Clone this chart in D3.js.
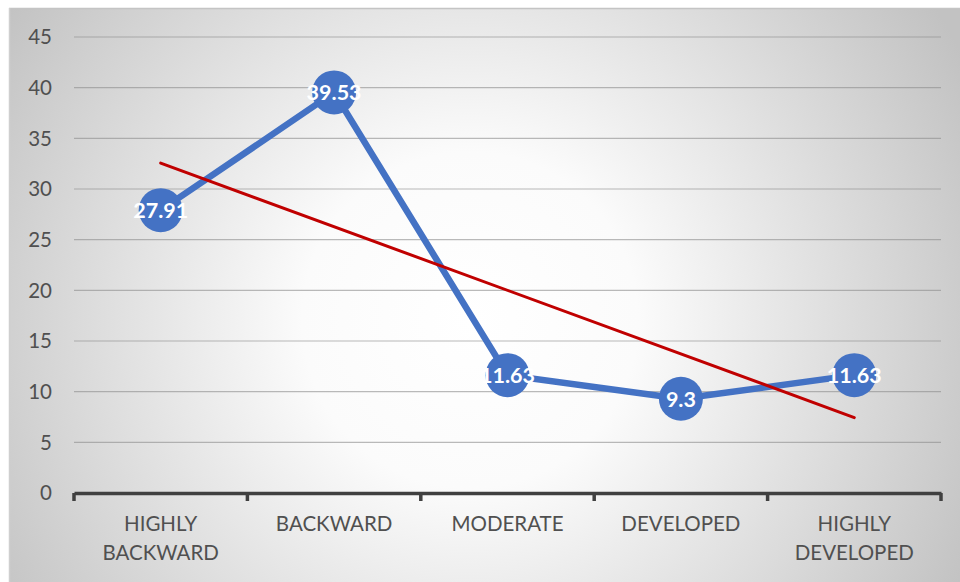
<!DOCTYPE html>
<html>
<head>
<meta charset="utf-8">
<script src="https://cdn.jsdelivr.net/npm/d3@7"></script>
<style>
  body { margin: 0; background: #fff; }
  svg { display: block; }
</style>
</head>
<body>
<div id="chart"></div>
<script>
/* chart data */
const categories = [['HIGHLY', 'BACKWARD'], ['BACKWARD'], ['MODERATE'], ['DEVELOPED'], ['HIGHLY', 'DEVELOPED']]
const values = [27.91, 39.53, 11.63, 9.3, 11.63]
const yTicks = [0, 5, 10, 15, 20, 25, 30, 35, 40, 45]

/* dimensions */
const W = 960
const H = 582
const margin = { top: 37, left: 74, right: 19, bottom: 89 }
const font = 'Lato, "Open Sans", sans-serif'

const svg = d3.select('#chart').append('svg').attr('width', W).attr('height', H)

/* radial gradient background */
const grad = svg.append('defs').append('radialGradient')
  .attr('id', 'bg')
  .attr('gradientUnits', 'userSpaceOnUse')
  .attr('cx', 470).attr('cy', 320).attr('r', 560)
grad.append('stop').attr('offset', '0%').attr('stop-color', '#ffffff')
grad.append('stop').attr('offset', '30%').attr('stop-color', '#fbfbfb')
grad.append('stop').attr('offset', '100%').attr('stop-color', '#c2c2c2')

svg.append('rect').attr('x', 9).attr('y', 8).attr('width', W - 9).attr('height', H - 8)
  .attr('fill', 'url(#bg)')
svg.append('line').attr('x1', 9).attr('x2', W).attr('y1', 8.5).attr('y2', 8.5)
  .attr('stroke', '#c4c4c4').attr('stroke-width', 1.5)
svg.append('line').attr('x1', 9.5).attr('x2', 9.5).attr('y1', 8).attr('y2', H)
  .attr('stroke', '#cfcfcf').attr('stroke-width', 1.5)

/* scales */
const x = d3.scaleBand().domain(d3.range(values.length))
  .range([margin.left, W - margin.right])
const y = d3.scaleLinear().domain([0, 45]).range([H - margin.bottom, margin.top])

/* gridlines */
svg.append('g').selectAll('line').data(yTicks.filter((d) => d > 0)).join('line')
  .attr('x1', margin.left).attr('x2', W - margin.right)
  .attr('y1', (d) => y(d)).attr('y2', (d) => y(d))
  .attr('stroke', '#8c8c8c').attr('stroke-opacity', 0.6).attr('stroke-width', 1.2)

/* y axis labels */
svg.append('g').selectAll('text').data(yTicks).join('text')
  .attr('x', 52).attr('y', (d) => y(d)).attr('dy', '0.35em')
  .attr('text-anchor', 'end')
  .attr('font-family', font).attr('font-size', 20.5).attr('fill', '#505050')
  .text((d) => d)

/* x axis */
const xAxis = d3.axisBottom(x).tickSize(0).tickFormat('')
const gx = svg.append('g').attr('transform', `translate(0,${y(0)})`).call(xAxis)
gx.select('.domain').attr('stroke', '#404040').attr('stroke-width', 3.5)
gx.selectAll('.tick').remove()
const bounds = x.domain().map((i) => x(i)).concat([x(values.length - 1) + x.bandwidth()])
gx.selectAll('.edge').data(bounds).join('line').attr('class', 'edge')
  .attr('x1', (d) => d).attr('x2', (d) => d).attr('y1', 0).attr('y2', 8)
  .attr('stroke', '#404040').attr('stroke-width', 3.5)

/* category labels */
const catG = svg.append('g').selectAll('text').data(categories).join('text')
  .attr('x', (d, i) => x(i) + x.bandwidth() / 2).attr('y', y(0) + 38)
  .attr('text-anchor', 'middle')
  .attr('font-family', font).attr('font-size', 20.5).attr('fill', '#505050')
catG.selectAll('tspan').data((d) => d).join('tspan')
  .attr('x', function () { return d3.select(this.parentNode).attr('x') })
  .attr('dy', (d, i) => (i === 0 ? 0 : 29))
  .text((d) => d)

/* linear trendline (least squares over category index) */
const xs = values.map((d, i) => i + 1)
const mx = d3.mean(xs)
const my = d3.mean(values)
const slope = d3.sum(xs, (d, i) => (d - mx) * (values[i] - my)) / d3.sum(xs, (d) => (d - mx) ** 2)
const intercept = my - slope * mx
const trend = [0, values.length - 1].map((i) => [i, intercept + slope * (i + 1)])

const cx = (i) => x(i) + x.bandwidth() / 2

/* data line */
svg.append('path').datum(values)
  .attr('d', d3.line().x((d, i) => cx(i)).y((d) => y(d)))
  .attr('fill', 'none').attr('stroke', '#4472c4').attr('stroke-width', 6.5)
  .attr('stroke-linejoin', 'round')

/* trendline */
svg.append('path').datum(trend)
  .attr('d', d3.line().x((d) => cx(d[0])).y((d) => y(d[1])))
  .attr('fill', 'none').attr('stroke', '#c00000').attr('stroke-width', 3)
  .attr('stroke-linecap', 'round')

/* markers */
svg.append('g').selectAll('circle').data(values).join('circle')
  .attr('cx', (d, i) => cx(i)).attr('cy', (d) => y(d)).attr('r', 22)
  .attr('fill', '#4472c4')

/* data labels */
svg.append('g').selectAll('text').data(values).join('text')
  .attr('x', (d, i) => cx(i)).attr('y', (d) => y(d)).attr('dy', '0.36em')
  .attr('text-anchor', 'middle')
  .attr('font-family', font).attr('font-size', 21.5).attr('font-weight', 'bold')
  .attr('fill', '#ffffff')
  .text((d) => d)
</script>
</body>
</html>
